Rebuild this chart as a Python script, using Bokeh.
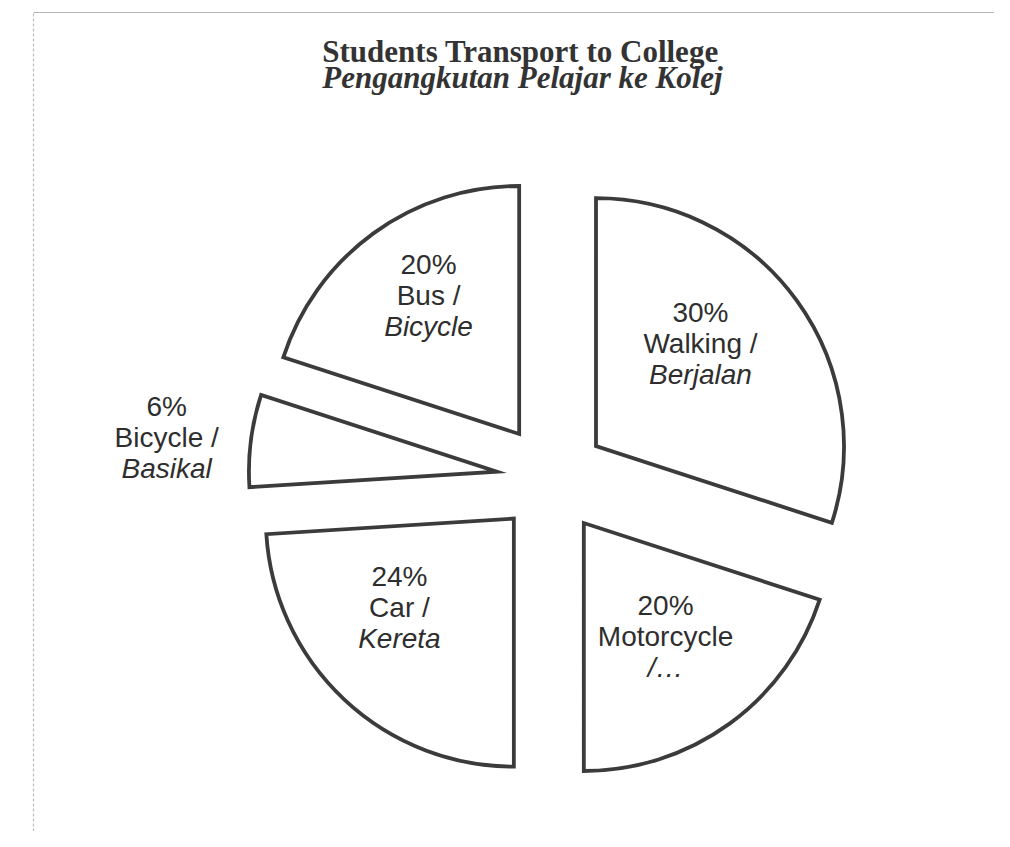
import numpy as np
from bokeh.plotting import figure
from bokeh.models import Range1d, ColumnDataSource
from bokeh.core.properties import value
from bokeh.embed import file_html
from bokeh.resources import INLINE

# ---------------- data ----------------
categories_en = ["Walking", "Motorcycle", "Car", "Bicycle", "Bus"]
line2_text = ["Walking /", "Motorcycle", "Car /", "Bicycle /", "Bus /"]
line3_text = ["Berjalan", "/…", "Kereta", "Basikal", "Bicycle"]
percent = [30, 20, 24, 6, 20]
title_en = "Students Transport to College"
title_ms = "Pengangkutan Pelajar ke Kolej"

# ---------------- layout ----------------
W, H = 994, 831
CX, CY = 551, H - 478      # pie centre (data units = px)
R = 248                    # radius
EXPLODE = 55               # explode distance
label_dist = [146.5, 140, 145, 332, 165.5]
label_nudge = [-8.5, 0.3, 8.9, -1.3, 2.8]   # degrees, clockwise
LINE_GAP = 31
FONT = "Liberation Sans"
EDGE = "#3b3b3b"

vals = np.array(percent, dtype=float)
frac = vals / vals.sum()
ends = np.cumsum(frac) * 360.0
starts = ends - frac * 360.0
mids = (starts + ends) / 2.0

# clockwise-from-top -> standard radians
def std(theta):
    return np.deg2rad(90.0 - theta)

ex = CX + EXPLODE * np.sin(np.deg2rad(mids))
ey = CY + EXPLODE * np.cos(np.deg2rad(mids))

src = ColumnDataSource(dict(
    x=ex, y=ey,
    start=std(starts), end=std(ends),
))

la = np.deg2rad(mids + np.array(label_nudge))
lx = ex + np.array(label_dist) * np.sin(la)
ly = ey + np.array(label_dist) * np.cos(la)

p = figure(width=W, height=H, x_range=Range1d(0, W), y_range=Range1d(0, H),
           output_backend="svg", toolbar_location=None, min_border=0)
p.axis.visible = False
p.grid.visible = False
p.outline_line_color = None
p.background_fill_color = "white"
p.border_fill_color = "white"

# scan frame
p.line([33, W], [H - 12, H - 12], line_color="#b5b5b5", line_width=1.2)
p.line([33, 33], [0, H - 12], line_color="#bdbdbd", line_width=1.2, line_dash="3 2")

p.wedge(x="x", y="y", radius=R, start_angle="start", end_angle="end",
        direction="clock", source=src, fill_color="white",
        line_color=EDGE, line_width=3.8, line_join="miter")

pct_text = [f"{v}%" for v in percent]
lsrc = ColumnDataSource(dict(x=lx, y=ly, t1=pct_text, t2=line2_text, t3=line3_text,
                             y1=ly + LINE_GAP, y3=ly - LINE_GAP))
common = dict(text_font=value(FONT), text_font_size="28px", text_color="#2e2e2e",
              text_align="center", text_baseline="middle", source=lsrc)
p.text(x="x", y="y1", text="t1", **common)
p.text(x="x", y="y", text="t2", **common)
p.text(x="x", y="y3", text="t3", text_font_style="italic", **common)

p.text(x=[520], y=[H - 51], text=[title_en], text_font=value("Liberation Serif"),
       text_font_size="31px", text_font_style="bold", text_color="#333333",
       text_align="center", text_baseline="alphabetic")
p.text(x=[522], y=[H - 77], text=[title_ms], text_font=value("Liberation Serif"),
       text_font_size="31px", text_font_style="bold italic", text_color="#333333",
       text_align="center", text_baseline="alphabetic")

open("out.html", "w").write(file_html(p, INLINE))
